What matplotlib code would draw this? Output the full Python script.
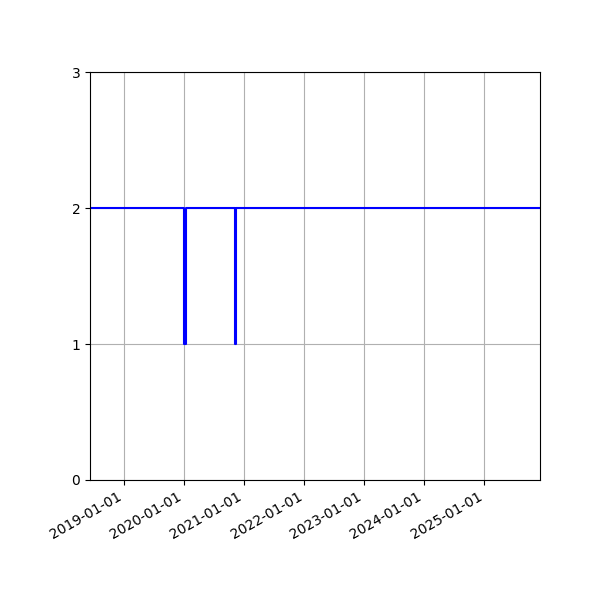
import numpy as np
import pandas as pd
import matplotlib
matplotlib.use('Agg')
import matplotlib.pyplot as plt
import matplotlib.dates as mdates

# step series: value held until next date
dates = pd.to_datetime(['2018-06-06', '2020-01-02', '2020-01-12',
                        '2020-11-02', '2020-11-12', '2025-12-06'])
values = [2, 1, 2, 1, 2, 2]

fig, ax = plt.subplots(figsize=(6, 6), dpi=100)
ax.plot(dates, values, color='blue', linewidth=1.5, drawstyle='steps-post')

ax.set_xlim(dates[0], dates[-1])
ax.set_ylim(0, 3)
ax.set_yticks([0, 1, 2, 3])
ax.xaxis.set_major_locator(mdates.YearLocator())
ax.xaxis.set_major_formatter(mdates.DateFormatter('%Y-%m-%d'))
ax.grid(True)
fig.autofmt_xdate()
plt.subplots_adjust(left=0.15, right=0.9, top=0.88, bottom=0.2)

plt.savefig('out.png')
